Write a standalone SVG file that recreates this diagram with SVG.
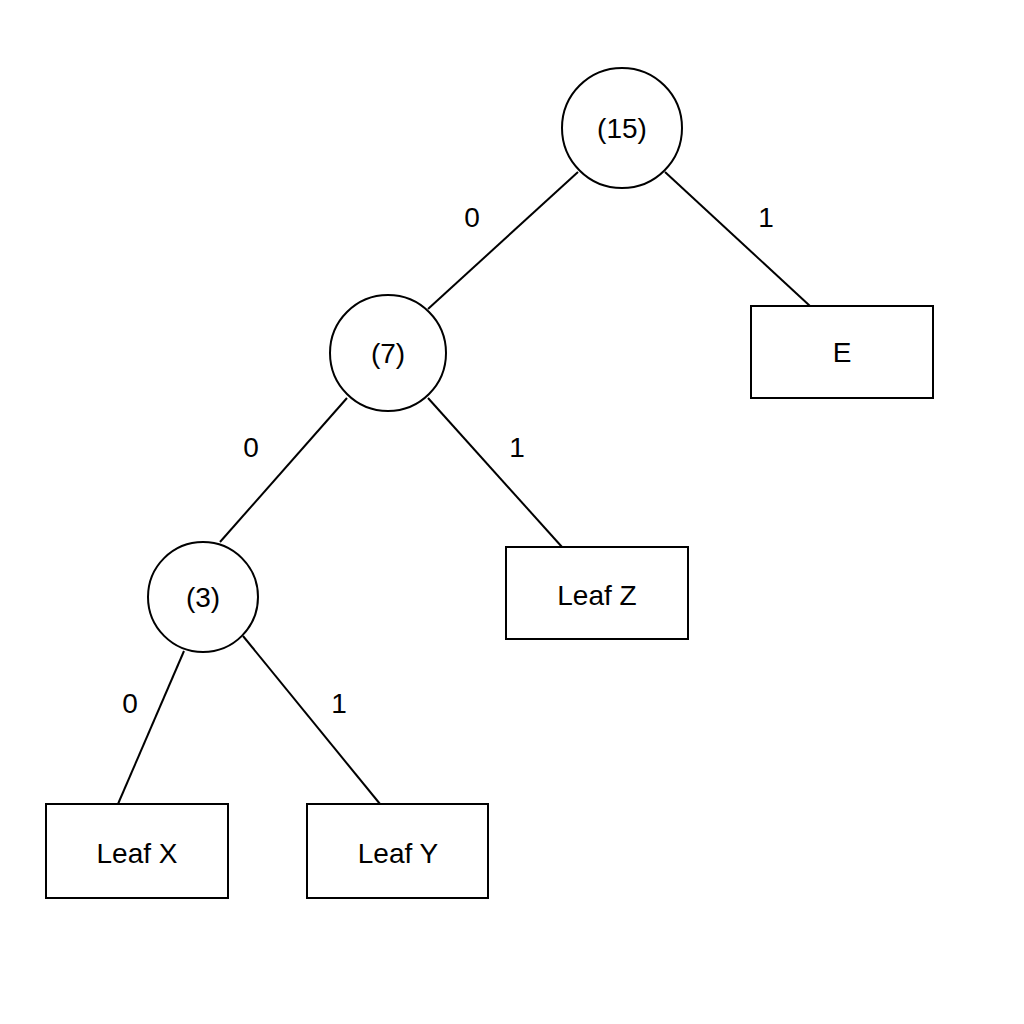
<svg xmlns="http://www.w3.org/2000/svg" width="1024" height="1024" viewBox="0 0 1024 1024">
<style>
.n{fill:#fff;stroke:#000;stroke-width:2}
.e{stroke:#000;stroke-width:2;fill:none}
text{font-family:"Liberation Sans",Arial,sans-serif;font-size:28px;fill:#000;text-anchor:middle;dominant-baseline:central}
</style>
<rect width="1024" height="1024" fill="#fff"/>
<g id="connectors">
<line class="e" x1="578" y1="172" x2="428" y2="309"/>
<line class="e" x1="665" y1="172" x2="810" y2="306"/>
<line class="e" x1="347" y1="398" x2="220" y2="542"/>
<line class="e" x1="428" y1="398" x2="562" y2="547"/>
<line class="e" x1="184" y1="651" x2="118" y2="804"/>
<line class="e" x1="243" y1="636" x2="380" y2="804"/>
<text x="472" y="217">0</text><text x="766" y="217">1</text>
<text x="251" y="447">0</text><text x="517" y="447">1</text>
<text x="130" y="703">0</text><text x="339" y="703">1</text>
</g>
<g id="n15"><circle class="n" cx="622" cy="128" r="60"/><text x="622" y="128">(15)</text></g>
<g id="n7"><circle class="n" cx="388" cy="353" r="58"/><text x="388" y="353">(7)</text></g>
<g id="n3"><circle class="n" cx="203" cy="597" r="55"/><text x="203" y="597">(3)</text></g>
<g id="E"><rect class="n" x="751" y="306" width="182" height="92"/><text x="842" y="352">E</text></g>
<g id="Z"><rect class="n" x="506" y="547" width="182" height="92"/><text x="597" y="595">Leaf Z</text></g>
<g id="X"><rect class="n" x="46" y="804" width="182" height="94"/><text x="137" y="853">Leaf X</text></g>
<g id="Y"><rect class="n" x="307" y="804" width="181" height="94"/><text x="398" y="853">Leaf Y</text></g>
</svg>
